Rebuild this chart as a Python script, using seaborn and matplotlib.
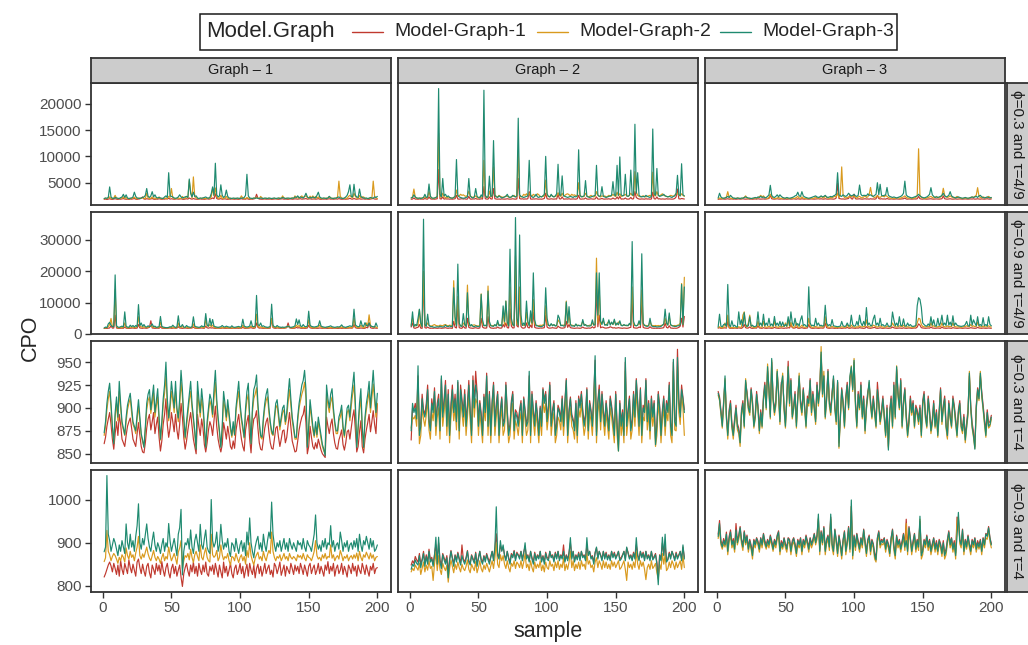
import numpy as np
import pandas as pd
import matplotlib
matplotlib.use("Agg")
import matplotlib.pyplot as plt
from matplotlib.patches import Rectangle
from matplotlib.lines import Line2D
import seaborn as sns

# ---------------------------------------------------------------- labels
settings = ["ϕ=0.3 and τ=4/9", "ϕ=0.9 and τ=4/9", "ϕ=0.3 and τ=4", "ϕ=0.9 and τ=4"]
graphs = ["Graph \u2013 1", "Graph \u2013 2", "Graph \u2013 3"]
models = ["Model-Graph-1", "Model-Graph-2", "Model-Graph-3"]
model_colors = ["#c0392f", "#d99a1e", "#1f8a70"]
legend_title = "Model.Graph"
x_label = "sample"
y_label = "CPO"
x_ticks = [0, 50, 100, 150, 200]
y_ticks = [[5000, 10000, 15000, 20000],
           [0, 10000, 20000, 30000],
           [850, 875, 900, 925, 950],
           [800, 900, 1000]]

# ---------------------------------------------------------------- CPO per sample
# naming: r<setting row>_g<graph>_m<model>

# ϕ=0.3 and τ=4/9
r1_g1_m1 = [1850,1900,1820,1880,1950,1870,1830,1900,1960,1880,1840,1900,1870,1920,1980,1900,1860,1890,1840,1900,
            1880,1930,1990,1870,1850,1900,1940,2050,2300,1900,1870,1960,1900,1880,1920,1990,1880,1850,1900,1870,
            1960,1890,1850,1900,1880,1940,1900,2050,1880,1950,1900,1860,1890,1930,1880,1900,1960,1870,1850,1900,
            1950,1890,2100,1940,1880,1990,1900,1880,1860,1900,1920,1870,1890,1850,1900,1940,1880,1900,1950,2100,
            1950,2900,2000,1880,1900,1980,1870,1900,1940,1880,1850,1900,1870,1920,1890,1860,1900,1880,1850,1900,
            1960,1880,1900,1870,1990,1880,1850,1900,1870,1920,2000,2800,2050,1900,1880,1860,1900,1920,1870,1890,
            1880,1900,1850,1870,1900,1930,1880,1860,1890,1900,1950,1870,1900,1880,1850,1900,1920,1870,1890,1940,
            1900,1880,1920,1960,1880,1900,1930,1990,1870,1900,1950,1880,1900,1920,1880,1900,1970,1880,1850,1900,
            1880,1900,1860,1900,1950,1880,1900,1870,1900,1920,1880,1980,1900,1860,1890,1900,1870,1900,1920,2050,
            1900,1880,2000,1900,1870,1900,1950,1880,1900,1930,1870,1900,1880,1850,1900,1940,2000,1900,1880,1900]
r1_g1_m2 = [1950,2050,1980,2100,2300,2000,1950,2100,2600,2050,1980,2000,2100,2050,2300,2000,2200,1980,1950,2050,
            2000,2100,2250,2000,1980,2050,2100,2000,2150,2050,2000,3000,2100,1980,2050,2300,2000,2100,1980,2000,
            2300,2000,1950,2050,2000,2100,1980,2400,2200,3900,2100,2000,1950,2050,2100,2000,1980,2400,2000,2050,
            2400,2100,5400,3200,2100,6100,2300,2150,2000,1950,2050,2000,2100,1980,2000,2050,2100,2000,2300,3900,
            2500,4000,2300,2100,2000,2600,2050,2000,2100,2400,2000,1980,2050,2000,1950,2000,2050,2000,1980,2050,
            2500,2050,2000,1980,2200,2050,2000,1950,2000,2050,2100,2200,2050,2000,2400,2100,2000,1980,2050,2000,
            2050,2000,1980,2000,2050,2000,1950,2050,2100,2000,2500,2100,2000,2050,1980,2000,2050,2100,2000,2500,
            2100,2400,2000,2300,2500,2100,2400,2500,2200,2000,2450,2100,2500,2000,2400,2100,2300,2050,2000,1980,
            2050,2000,2100,2050,2400,2100,2000,2050,1980,2100,2300,5300,2400,2100,2000,2050,2100,2000,2400,2600,
            2300,2100,3000,2400,2100,2000,2600,2100,2300,2300,2050,2000,1980,2050,2100,2000,5300,2400,2100,2000]
r1_g1_m3 = [2000,2100,2050,2200,4200,2300,2050,2000,2200,2100,2050,2000,2150,2300,2800,2200,2700,2100,2000,2050,
            2100,2300,3200,2400,2100,2050,2000,2100,2200,2300,2600,3900,2400,2200,2500,3300,2300,2700,2200,2100,
            2200,2100,2050,2000,2300,2500,2200,6900,2500,2400,2300,2100,2050,2100,2300,2700,2300,2100,2200,2300,
            2400,2200,5700,3000,2300,3200,2400,2500,2100,2000,2100,2050,2100,2200,2300,2100,2050,2200,2900,4200,
            2600,8700,2700,2300,2500,4600,2600,2200,2400,3600,2400,2100,2050,2000,2100,2050,2000,2100,2050,2000,
            2100,2050,2200,2600,6600,2500,2100,2050,2000,2100,2050,2100,2050,2000,2100,2050,2000,2100,2050,2000,
            2100,2050,2000,2050,2100,2000,2050,2100,2000,2050,2200,2100,2000,2050,2100,2050,2000,2100,2050,2300,
            2200,2500,2100,2300,2200,2100,2400,3000,2300,2100,2200,2100,2300,2200,2100,2600,3200,2300,2100,2050,
            2100,2050,2000,2100,2400,2100,2050,2000,2100,2050,2200,2300,2100,2050,2000,2100,2300,2600,3300,4600,
            2400,2300,4700,2600,2300,2200,3800,2400,2200,2100,2050,2100,2000,2050,2200,2100,2050,2300,2200,2400]

r1_g2_m1 = [1850,1900,2100,1880,1900,1860,1920,1880,1900,1870,2000,1900,1880,2300,1950,1880,1900,1870,1920,1950,
            7500,1950,1900,2300,1880,1950,1900,1920,1880,1900,1870,1900,1950,2600,1900,1880,1920,1960,1900,1950,
            1880,1900,2400,1900,1880,1920,1900,2000,1880,1900,1870,1950,1900,4250,1950,1900,1880,2300,1920,1900,
            3900,1950,1900,1880,1900,1870,1920,1900,1880,1900,1950,1900,1880,1900,1950,1900,1880,1920,5800,2000,
            1900,1950,1880,1920,1900,1950,3300,1900,1880,1920,1900,1950,1900,1880,1900,1870,1920,2000,3000,1950,
            1900,1880,1950,1900,1880,1920,1900,2800,1950,1900,2300,1880,1900,1920,1900,1950,1880,1900,1920,1900,
            1880,1950,2600,1900,1880,1920,1900,2100,1900,1880,1900,1950,1900,1880,1920,2300,1900,1880,1920,2000,
            1900,1880,1920,1900,1950,1880,1900,2100,1920,1900,2300,1900,2400,1880,1920,1900,2100,1900,1880,1920,
            2200,1900,1950,3300,2200,2000,1900,1880,1920,1900,1880,1950,1900,1920,1880,1900,3200,1950,1900,2300,
            1900,1950,1880,1920,1900,1880,1950,1900,1920,1900,1880,1900,2000,2300,3800,1950,1900,2000,1950,1900]
r1_g2_m2 = [2100,2300,3800,2200,2100,2000,2050,2100,2000,2150,2300,2100,2200,3300,2400,2100,2000,2050,2200,2300,
            14400,2500,2200,3000,2300,2200,2100,2300,2200,2100,2050,2200,2300,3600,2400,2500,2800,2600,2700,2500,
            2400,2600,3400,2500,2300,2200,2300,2500,2200,2100,2300,2200,2400,9250,2500,2300,2200,3400,2300,2500,
            8000,2700,2400,2300,2600,2400,2300,2200,2300,2500,2400,2300,2200,2300,2400,2600,2300,2400,11100,2500,
            2300,2400,2800,2600,2900,2500,3000,2700,2400,2800,2600,2500,2900,2700,2400,2300,2500,2400,5500,2600,
            2400,2300,2600,2500,2300,2400,2500,3100,2600,2400,3000,2500,2600,2800,2900,2700,2500,2800,2600,2700,
            2500,2400,5000,2600,2400,2300,2400,3000,2500,2300,2400,2600,2400,2300,2400,3300,2600,2400,2300,2500,
            2400,2500,2300,2400,2600,2400,2500,2800,2500,2400,3200,2500,2900,2400,2500,2600,2800,2500,2400,2600,
            3000,2600,2500,7100,3200,2600,2400,2300,2400,2500,2400,2300,2400,2500,2600,2400,7000,2600,2500,3300,
            2600,2500,2700,2900,2600,2500,2400,2300,2400,2600,2500,2400,2600,2900,3000,2600,2500,2900,2600,2400]
r1_g2_m3 = [2100,2200,2700,2300,2100,2050,2100,2000,2100,2200,2800,2200,2300,4750,2400,2100,2050,2100,2200,2400,
            22880,2800,2300,5800,2500,2800,2300,2500,2200,2100,2050,2200,2400,9400,2600,2300,2200,2100,2050,2100,
            2200,2300,5800,2500,2200,2100,2300,3900,2400,2200,2100,2700,2300,22560,2600,2200,2300,6250,2400,2500,
            13000,2600,2300,2200,2500,2300,2100,2200,2300,2400,2800,2300,2200,2300,2600,2400,2300,2500,17250,2700,
            2400,2300,2200,2300,2400,2500,9250,2600,2300,2200,2400,2800,2300,2200,2400,2300,2500,2800,10000,2900,
            2400,2300,2800,2400,2300,2500,2900,8500,2700,2600,6300,2500,2400,2300,2200,2300,2400,2300,2200,2400,
            2300,2500,11250,2600,2300,2400,2500,5400,2400,2300,2200,2300,2400,2500,2600,8300,2700,2400,2500,4250,
            2400,2300,2200,2300,2400,2500,2600,5200,2700,2500,8300,2600,9900,2700,2500,2600,6600,2500,2400,2600,
            7400,2700,2600,16100,3000,6900,2600,2400,2300,2400,2300,2600,2400,2300,2200,2400,15200,2900,2600,7700,
            2600,2400,2500,2600,2800,2500,2400,2300,2400,2300,2200,2400,2500,3000,6400,2700,2500,8600,2700,2500]

r1_g3_m1 = [1850,1900,1880,1920,1900,1870,1900,1950,1880,1900,1920,1880,1900,1870,1900,1920,1880,1900,1950,1900,
            1880,1900,1920,1880,1900,1870,1900,1920,1880,1950,1900,1880,1900,1920,1880,1900,1950,2000,2600,1950,
            1900,1880,1920,1950,1900,1880,1920,1900,1880,1900,1870,1900,1920,1880,1900,1950,1900,1880,1950,1900,
            1880,1950,1900,1880,1920,1900,1880,1900,1920,1900,1880,1900,1920,1950,1900,1950,1900,1880,1950,1900,
            1880,1900,1920,1900,1880,1920,2100,4900,2000,1950,1900,1920,1880,1900,1950,2000,2600,1950,1900,2800,
            1950,1900,1920,1950,1900,1880,1920,1950,1900,1920,1880,1950,1900,1920,1880,1950,2600,2000,1900,1950,
            1900,1920,1880,2000,1900,1880,1920,1900,1880,1900,1920,1900,1880,1900,1920,1950,2100,1900,1880,1920,
            1900,1880,1900,1920,1900,1950,2400,1950,1900,1880,1920,1900,1880,1900,1920,1950,1900,1880,1900,1920,
            1900,1880,1920,1950,2500,1950,1900,1880,1920,1950,1900,1880,1900,1920,1880,1900,1920,1900,1880,1900,
            1920,1900,1880,1900,1920,1900,1950,1880,1900,1950,1900,1880,1920,1900,1880,1920,1950,1900,1880,1920]
r1_g3_m2 = [1950,2100,2000,1980,2050,2100,2300,3300,2200,2050,2000,1980,2050,2000,2100,2050,2000,1980,2100,2200,
            2500,2100,2000,2050,1980,2000,2050,2100,2050,2200,2300,2600,2300,2500,2200,2100,2000,2200,2800,2300,
            2100,2050,2000,2100,2200,2050,2000,2100,2000,2050,2100,2000,1980,2050,2100,2000,2050,2200,2400,2100,
            2050,2300,2100,2000,2050,2000,1980,2050,2100,2000,2050,2300,2100,2050,2200,2400,2200,2100,2500,2200,
            2100,2050,2200,2100,2300,2400,2300,3000,2200,2600,8000,2600,2200,2100,2200,2300,2400,2300,2500,2400,
            2200,2100,2300,2400,2200,2100,2300,2500,2200,2300,2800,4100,2600,2300,2200,2300,2500,2300,2200,2400,
            2500,2300,2600,2400,2200,2100,2050,2100,2000,2050,2100,2200,2050,2100,2200,2300,2500,2200,2100,2050,
            2100,2050,2000,2100,2200,2600,11440,2600,2200,2100,2050,2000,2100,2200,2300,2400,2200,2100,2200,2400,
            2200,2100,2300,2500,3940,2600,2300,2200,2300,2500,2300,2200,2100,2200,2400,2200,2100,2050,2000,2050,
            2100,2050,2000,2100,2200,2300,2200,2400,2600,4060,2400,2200,2100,2300,2200,2100,2200,2400,2200,2100]
r1_g3_m3 = [2100,3000,2300,2100,2050,2100,2200,2400,2200,2600,2300,2100,2050,2000,2100,2050,2000,2100,2050,2200,
            2300,2200,2100,2050,2000,2050,2100,2200,2100,2300,2200,2400,2200,2300,2100,2200,2400,2700,4500,2600,
            2300,2200,2400,2700,2300,2700,2400,2200,2100,2050,2200,2100,2050,2100,2200,2300,2500,2600,3200,2500,
            2400,3300,2500,2300,2200,2100,2050,2100,2200,2300,2400,2500,2300,2200,2300,2500,2300,2400,2600,2300,
            2200,2300,2400,2300,2500,2600,2900,6900,2700,2500,2400,2700,2500,2400,2600,3000,2700,2500,2600,2800,
            2500,2400,2600,4560,2800,2500,2600,2600,2500,2900,2600,2700,2500,2400,2600,2800,5000,2700,4700,2600,
            2500,2600,2700,4100,2600,2400,2300,2200,2300,2200,2100,2200,2300,2400,2600,3000,5300,2700,2400,2300,
            2200,2100,2200,2300,2400,2500,2800,2500,2300,2200,2100,2200,2300,2500,2800,4060,2700,2400,2200,2300,
            2200,2300,2400,2600,3000,2500,2300,2400,2600,3300,2500,2300,2200,2100,2200,2300,2200,2100,2050,2100,
            2200,2100,2050,2100,2200,2300,2200,2300,2400,2200,2500,2600,2300,2200,2100,2200,2300,2200,2100,2200]

# ϕ=0.9 and τ=4/9
r2_g1_m1 = [1750,1800,1780,1850,1900,2600,1850,1900,6000,1900,1800,1780,1820,1850,1800,2200,1850,1800,1780,1820,
            1850,1900,1800,1820,1850,3000,1900,1850,1800,1900,1850,1800,1950,2100,4200,1900,1850,1800,1820,1850,
            1800,2300,1850,1800,1780,1820,1800,1850,1900,1800,1850,1900,1800,1850,2300,1900,1850,1800,1850,1900,
            1850,1800,1820,1850,1900,2200,1850,1800,1780,1820,1850,1900,1850,1800,2500,1950,1850,2000,1900,1950,
            1850,1800,1820,1850,1800,1780,1900,1850,1800,1820,1850,1800,1780,1800,1850,1800,1820,1850,1800,1850,
            1820,2100,1850,1800,1820,1850,1900,2000,1850,1800,1900,3500,2100,1850,1900,1850,1800,1820,1850,1800,
            1820,1850,4800,2000,1850,1800,1900,1850,1800,1820,1850,1800,1900,2000,3500,1950,1850,1800,1820,1850,
            2100,1900,2000,1850,1800,1850,1800,1820,1900,2800,1950,1850,1800,1820,1850,1800,1820,1900,1850,1800,
            1820,1850,1800,1780,1820,1850,1800,1820,1850,1800,1780,1820,1850,1800,1820,1850,1800,1820,1850,1900,
            1850,1900,3000,2000,1850,1800,1820,1900,1850,1800,1820,2100,1950,3600,2000,1850,1800,1900,1850,1800]
r2_g1_m2 = [1850,1950,2000,2300,3000,4950,2300,2500,14200,2300,2000,1950,2000,2100,2000,3500,2100,2000,1950,2200,
            2100,2200,2000,2100,2300,5500,2400,2300,2100,2300,2100,2000,2200,2300,2600,2300,2100,2200,2000,2100,
            2000,3700,2200,2000,1950,2000,1900,2000,2100,2000,2200,2000,1950,2000,3500,2200,2100,2300,2100,2000,
            2200,2000,1950,2000,2100,3200,2100,2000,1950,2000,2100,2200,2100,2000,4500,2600,2400,3000,2300,2800,
            2100,2000,1950,2000,1950,1900,2100,2000,1950,2100,2000,1950,1900,2000,1950,1900,2000,2100,2000,1950,
            2000,2800,2100,2000,1950,2000,2100,2500,2200,2000,2300,6300,2500,2100,2300,2100,2000,1950,2000,1950,
            2000,2100,5000,2300,2100,2000,2200,2000,1950,2000,1950,1900,2000,2100,2600,2100,2000,1950,2000,2100,
            2800,2300,2700,2100,2000,2100,2000,2100,2300,4500,2300,2100,2000,1950,2000,2100,2200,2800,2200,2000,
            1950,2000,2100,2000,1950,2100,2000,1950,2000,1950,2000,2100,2000,2200,2000,1950,2000,1950,2000,2100,
            2000,2200,5000,2400,2100,2000,2100,2800,2200,2000,2200,3500,2500,6100,2700,2300,2100,2400,2200,2000]
r2_g1_m3 = [1900,2200,2000,3200,3700,2800,2300,2400,18850,2600,2200,2100,2300,2500,2200,7050,2400,2200,2100,2800,
            2300,2700,2200,2700,2300,9370,2600,3500,2400,3000,2300,2200,2600,2300,2500,3200,2300,2500,2100,2200,
            2300,5580,2400,2200,2100,2000,2000,2100,2300,2200,2800,2300,2100,2200,5800,2500,2300,3000,2200,2100,
            2700,2300,2200,2100,2300,5470,2500,2300,2200,2100,2200,2600,2300,2400,6500,2800,2500,4950,2700,4600,
            2500,2300,2200,2100,2200,2300,2700,2300,2200,2500,2300,2200,2100,2600,2200,2100,2200,2300,2400,2200,
            2300,4700,2500,2300,2200,2300,2500,4200,2400,2300,2500,12300,3000,2600,3500,2400,2600,2300,2200,2100,
            2200,2400,9500,2700,2300,2200,2700,2300,2200,2100,2200,2100,2200,2300,2500,2200,2100,2200,2300,2600,
            4800,3000,4500,2600,2300,3000,2400,2300,2500,7260,2800,2400,2300,2200,2300,2400,2600,4200,2500,2300,
            2200,2100,2200,2300,2400,2600,2300,2200,2100,2200,2300,2200,2400,2900,2300,2200,2100,2300,2400,2600,
            2400,2600,7900,2900,2500,2300,2400,4200,2600,2400,3600,2700,2500,3500,2600,2400,2300,2200,3500,2400]

r2_g2_m1 = [2200,3500,1900,1800,2000,2100,3000,1850,1800,16800,2000,1850,2200,1900,1800,1850,1800,1900,1850,1800,
            1850,1900,1800,1850,1900,2000,1850,1800,1900,1850,1800,4000,2100,1900,9160,2000,1850,1800,2500,1900,
            1850,5000,2100,1900,1850,1800,1900,2000,1850,1800,1900,5000,2200,1900,1850,1900,5500,2300,1900,1850,
            1800,1900,1850,2200,1900,1850,1900,3000,2200,3500,2000,1900,8000,2500,1900,1950,18630,2600,2200,12630,
            2400,1900,1850,2000,3500,2100,1900,2800,2000,7000,2100,1900,1850,1800,1900,1850,1900,2000,6000,2200,
            1900,1850,1900,2000,1900,1850,1800,2500,2100,1900,1850,1900,2000,4000,2100,3000,2000,1900,1850,1800,
            1850,1900,1850,1800,1900,2200,1900,1850,1800,1900,1850,1900,2300,1900,2100,14400,2300,6000,1950,2200,
            2100,1900,1850,1950,2000,2300,2100,1900,2000,1850,1900,2000,1900,1850,1800,1900,1850,1800,1850,2000,
            2100,11260,2000,1900,1850,1900,2200,2000,10840,2100,1900,1850,1800,1850,2300,1900,1850,1800,1850,1800,
            1850,1800,1850,1900,2000,3500,2100,1900,2600,1900,1850,1800,1850,1800,1900,2100,2500,5000,2200,5580]
r2_g2_m2 = [2800,5000,2600,2500,3000,2800,7800,2600,2500,20000,2800,2600,3500,2700,2600,2500,2800,3000,2700,2600,
            2500,2800,2700,2600,2900,3000,2700,2600,2800,2700,2600,17000,3500,2800,12000,3000,2700,2600,3500,2800,
            2600,15600,3000,2700,2600,2800,2900,2700,2600,2500,2800,12800,3200,2700,2600,2800,15300,3200,2800,2600,
            2700,2800,2600,3500,2900,2700,2800,7000,3000,10500,2900,2700,15000,3500,2800,2700,25000,3200,2900,15000,
            3500,2800,2700,2900,7000,3200,2800,5500,3000,11000,3200,2800,2700,2600,2800,2700,2900,3000,9000,3200,
            2800,2700,3000,2800,2900,2700,2600,4500,3800,2800,2700,2800,3000,10500,3200,6000,3000,2800,2700,2600,
            3000,2800,2700,2600,2900,4000,3000,2800,2700,2600,2800,2700,3500,2900,3000,24200,3500,14000,3000,3800,
            4000,3000,2800,3500,4000,3200,3500,3000,4200,2900,3000,3800,3500,2800,2700,2800,2700,2600,2800,3000,
            3200,15000,3000,2800,2600,2800,3500,2900,14000,3000,2800,2700,2600,2700,4000,2800,2700,2600,2700,2600,
            2700,2600,2700,2800,3000,5000,3200,2900,5500,2800,2700,2600,2700,2600,2800,2900,3500,16100,3000,18100]
r2_g2_m3 = [2500,7050,2400,3000,2600,5000,7900,3500,2300,36640,3000,2400,6300,2800,2300,2400,2200,2100,2200,2300,
            2200,2500,2300,2200,2300,2800,2400,2300,2600,2300,2400,14740,5500,2600,22300,3500,2500,2400,6500,3000,
            2400,13160,4000,2500,3000,2400,2300,2600,2400,2300,2500,12630,4500,2600,2800,2500,13700,4000,2600,2500,
            2400,3000,2500,4300,2600,2900,2500,8950,4000,10500,3800,2600,27060,5000,3000,2600,37170,5000,2800,31600,
            6000,2700,3500,2600,10500,4000,2600,7400,3500,19500,4500,2600,2600,2400,2400,2300,2600,2800,14740,5000,
            2800,2500,3300,2600,3000,2500,2700,6000,5000,2600,2800,2500,2600,10200,3500,8700,3000,2500,2600,2400,
            3200,2500,2800,2600,2500,4600,2700,3000,2500,2600,2500,2700,4500,2800,3000,19500,6000,19500,4000,3000,
            5000,2800,3000,2700,4500,2800,3800,3000,4700,2800,3500,2900,4200,2700,2600,3000,2700,2800,2600,3400,
            2800,29500,4000,2700,2600,2800,4200,2900,25600,3500,2700,2500,2400,2600,5000,2600,2400,2300,2400,2200,
            2300,2300,2400,2800,3200,7900,3500,2800,6700,3000,2600,2500,2400,2400,2600,2600,3000,15800,3000,15000]

r2_g3_m1 = [1850,2000,1800,1850,1900,1950,1850,4000,1900,1800,1850,1800,1900,1850,1800,1950,1850,1800,2100,3000,
            2000,1850,1900,2200,1850,1800,1850,1900,1850,2600,1900,1850,1800,2000,1850,1800,1850,1900,1850,1800,
            1850,2100,1900,1850,1800,1850,1900,1850,1800,1900,1850,2000,1900,3000,2000,1850,1900,2200,1850,1800,
            1900,2000,1850,1800,1850,1900,3000,2000,1850,1800,1850,1900,1850,1800,1850,1900,1850,1900,3500,2000,
            1850,1800,1850,1900,1850,1800,1850,1800,1900,1850,1800,1850,1900,1850,2100,1850,1800,1950,1900,1850,
            1800,1900,1850,2000,1900,1850,1800,1850,2300,1900,1850,1800,1900,2000,2100,1850,1800,1850,1950,1850,
            1800,1850,1900,1850,1800,1850,1900,2200,1950,1850,1800,1850,1900,1850,1800,1950,1850,1800,1850,1900,
            1850,1800,1850,1900,1850,2200,3200,2800,2000,1900,1850,1800,1850,1900,1850,2200,1900,1850,1800,1850,
            1900,1850,1800,2200,1900,1850,1800,1850,1900,1850,1800,2000,1900,1850,1800,1850,1900,1850,1800,1850,
            1900,1850,1800,1850,2000,1900,1850,1800,1850,2100,1900,1850,1800,1900,1850,1800,1850,1900,1850,1800]
r2_g3_m2 = [2000,2300,2000,1950,2100,3500,2100,6000,2200,2000,2100,2000,1950,2000,2100,2300,2100,2200,6000,7050,
            2500,2200,3500,6000,2400,2200,2100,2000,2200,4000,2300,2100,2200,4000,2300,2100,2200,2500,2200,2100,
            2200,4000,2300,2200,2100,2500,2200,2400,2300,3500,2200,4500,2300,3700,2200,2100,2300,3500,2200,2100,
            2300,2800,2200,2100,2200,2300,5000,2500,2200,2100,2200,2400,2200,2100,2200,2300,2200,2300,5500,2600,
            2200,2100,2200,2400,2200,2100,2000,2100,2200,2100,2300,2200,2100,2200,3000,2200,2100,2800,2300,2200,
            2100,2300,2200,2600,2300,2200,2400,2300,4500,2400,2300,2200,2300,2800,2600,2300,2200,2400,2600,2300,
            2200,2100,2200,2500,2300,2200,2400,3500,2600,2300,2200,2300,2600,2400,2300,2800,2300,2200,2300,2200,
            2100,2200,2100,2200,2400,3500,5000,4800,3000,2400,2300,2200,2300,2400,2300,3500,2400,2600,2300,2200,
            2300,2400,2300,3500,2400,2300,2200,2600,2300,2400,2300,3500,2400,2300,2200,2300,2200,2100,2200,2300,
            2400,2600,2300,2400,3000,2400,2600,2300,2400,3800,2400,2300,2200,2500,2300,2200,2300,2600,2300,2200]
r2_g3_m3 = [2200,6300,2500,2300,3000,3200,2400,15800,3000,2300,4200,2400,2800,2300,2200,7050,3000,4500,2500,6800,
            3000,2400,2600,5500,2500,2800,2300,2400,2600,7050,2700,3500,2500,6300,2600,3500,2700,5000,2600,3200,
            2500,5580,2700,3500,2600,4000,2500,3800,2400,3000,2500,5500,2700,7050,3500,2600,5000,2800,3300,2500,
            4500,5800,2700,3000,2500,2400,15050,3500,2600,2800,2500,5000,2700,3500,2600,2800,2500,2700,9160,3500,
            2600,3000,2500,4600,2600,2500,2400,2300,2400,2500,4000,2600,2400,2500,3500,2600,2500,6000,3000,2500,
            2600,4000,2700,6000,3500,2600,4000,2700,8420,2800,3500,2600,2700,4800,6000,2800,3500,2600,5000,2700,
            3000,2500,2600,3500,2500,2400,2600,7000,4500,2600,3500,2500,5500,2700,2600,4800,2600,2500,3500,2600,
            3000,2500,2400,2500,2700,9000,11580,11000,8500,3500,3000,2600,2500,3200,2600,5500,2800,4500,2600,2500,
            5000,2700,3500,6000,2800,3500,2700,6000,2800,3800,2600,5800,2700,3500,2800,2600,2500,2400,2500,2600,
            3000,4000,2600,2500,6000,2800,4500,3500,2600,5500,2700,3000,2500,5200,2600,3000,2500,5500,3000,2600]

# ϕ=0.3 and τ=4
r3_g1_m1 = [861,868,880,888,895,882,866,855,872,885,870,893,882,866,862,858,870,880,885,889,
            878,866,862,858,872,884,870,858,852,851,862,878,888,893,876,885,895,872,882,890,
            868,853,864,882,893,910,882,868,878,895,885,874,893,876,866,882,905,890,868,855,
            864,876,886,895,880,866,858,850,893,880,870,888,878,860,852,862,876,885,880,870,
            886,902,880,866,858,852,860,884,876,866,880,870,858,855,864,856,875,885,893,878,
            866,858,853,876,885,892,866,851,876,888,890,897,878,862,855,854,866,878,885,889,
            874,862,856,855,866,878,880,868,858,866,875,876,862,868,882,895,880,864,858,852,
            853,864,876,884,890,893,902,884,850,858,880,868,858,855,862,856,866,860,854,850,
            848,846,890,880,872,882,888,872,862,856,855,865,870,876,860,854,862,874,876,866,
            878,890,898,876,852,858,874,886,858,851,866,876,884,893,874,885,897,882,872,904]
r3_g1_m2 = [870,880,898,910,918,900,878,862,890,905,886,918,900,882,876,870,885,898,905,910,
            895,882,878,872,888,902,886,870,863,858,876,898,908,912,894,905,916,890,902,912,
            886,865,880,903,916,935,903,886,898,918,908,895,918,896,885,903,928,912,886,866,
            880,895,908,918,900,886,872,856,918,903,890,910,898,876,858,880,895,908,902,890,
            910,928,903,886,872,858,876,908,900,886,902,890,876,868,880,870,895,908,918,900,
            886,876,867,895,908,915,886,862,895,910,915,922,900,882,868,866,886,900,908,912,
            895,882,872,870,886,900,903,890,876,886,895,898,882,890,906,920,903,886,876,866,
            866,886,900,908,915,920,928,910,858,876,902,890,876,868,880,868,885,876,866,858,
            853,850,915,903,895,906,912,895,882,872,872,886,890,898,876,868,880,895,898,886,
            902,915,925,898,858,876,898,910,876,856,886,898,908,918,895,910,926,908,890,905]
r3_g1_m3 = [873,885,905,918,927,905,880,861,895,912,890,929,905,885,878,871,890,903,910,916,
            900,885,880,875,893,909,890,872,865,857,880,905,915,920,898,912,925,895,908,921,
            890,866,885,910,925,950,910,889,905,929,915,900,929,900,889,910,941,920,890,868,
            885,900,915,929,905,890,875,855,929,910,895,921,905,880,857,885,900,915,909,893,
            920,941,910,890,875,857,880,918,905,890,909,895,880,870,885,871,900,915,929,905,
            890,880,868,900,918,927,890,861,900,920,925,936,905,885,870,868,890,905,915,921,
            900,885,875,871,890,905,909,895,880,890,900,903,885,895,915,932,910,890,880,868,
            868,890,905,915,925,930,941,920,857,880,909,895,880,870,885,871,890,880,870,860,
            855,848,925,910,900,915,921,900,885,875,875,890,895,903,880,870,885,900,903,890,
            910,925,939,905,857,880,905,921,880,857,890,905,915,929,900,920,941,915,895,916]

r3_g2_m1 = [865,900,898,905,892,935,875,885,915,898,893,905,925,888,878,910,898,922,885,905,
            915,878,932,895,910,930,885,920,875,905,925,898,915,888,928,878,925,910,895,920,
            885,905,930,898,875,935,905,940,918,885,908,895,875,915,898,938,885,918,875,908,
            928,885,905,918,875,898,912,885,888,928,898,875,882,908,918,880,898,895,885,898,
            908,873,912,898,884,888,935,874,918,898,884,908,893,873,902,884,922,908,918,888,
            903,928,883,898,908,874,884,903,898,888,913,884,908,932,874,898,912,893,888,878,
            908,874,913,903,918,898,884,893,922,878,908,898,884,913,952,874,908,925,888,918,
            898,884,908,893,878,913,903,888,874,918,884,860,908,884,898,874,950,884,898,913,
            878,888,918,893,932,908,884,922,874,903,898,932,888,908,878,913,893,908,866,884,
            918,903,874,898,913,884,908,898,928,884,874,950,890,885,964,910,895,925,912,898]
r3_g2_m2 = [878,890,888,892,880,925,861,870,900,888,880,892,910,876,866,896,886,908,870,890,
            900,866,920,880,895,915,870,905,862,890,910,886,900,876,918,866,910,895,880,905,
            870,890,915,886,862,918,890,910,905,870,895,880,862,900,886,922,870,905,862,895,
            915,870,890,905,862,886,900,870,876,915,886,862,870,895,905,866,886,880,870,886,
            895,862,900,886,870,876,925,862,905,886,870,895,880,862,890,870,910,895,905,876,
            890,915,870,886,895,862,870,890,886,876,900,870,895,918,862,886,900,880,876,866,
            895,862,900,890,905,886,870,880,910,866,895,886,870,900,940,862,895,908,876,905,
            886,870,895,880,866,900,890,876,862,905,870,853,895,870,886,862,940,870,886,900,
            866,876,905,880,918,895,870,908,862,890,886,918,876,895,866,900,880,895,858,870,
            905,890,862,886,900,870,895,886,915,870,862,940,876,875,945,895,882,915,900,870]
r3_g2_m3 = [875,905,895,900,888,946,870,880,910,895,890,900,920,885,875,905,895,918,880,900,
            910,875,935,890,905,925,880,915,870,900,920,895,910,885,930,875,920,905,890,915,
            880,900,925,895,870,930,900,925,915,880,905,890,870,912,895,935,880,915,870,905,
            925,880,900,915,870,895,910,880,885,925,895,870,880,905,915,875,895,890,880,895,
            905,870,910,895,880,885,940,870,915,895,880,905,890,870,900,880,920,905,915,885,
            900,925,880,895,905,870,880,900,895,885,910,880,905,930,870,895,910,890,885,875,
            905,870,910,900,915,895,880,890,920,875,905,895,880,910,957,870,905,920,885,915,
            895,880,905,890,875,910,900,885,870,915,880,853,905,880,895,870,955,880,895,910,
            875,885,915,890,930,905,880,920,870,900,895,930,885,905,875,910,890,905,860,880,
            915,900,870,895,910,880,905,895,925,880,870,953,885,880,955,905,890,920,910,895]

r3_g3_m1 = [918,912,898,884,908,930,893,873,898,908,884,874,888,903,883,878,866,898,908,884,
            928,918,903,898,922,908,884,893,918,903,878,898,884,913,928,903,940,922,893,950,
            912,898,908,938,918,888,928,930,903,884,913,951,908,932,893,903,918,884,913,932,
            908,898,922,903,884,913,908,932,898,918,903,888,928,908,922,958,918,935,893,913,
            942,908,898,918,932,903,888,928,862,893,922,908,884,913,928,903,932,940,922,950,
            908,884,918,903,928,893,913,878,903,918,925,908,893,913,898,884,928,908,888,898,
            913,893,873,903,858,898,913,884,928,893,942,918,903,932,884,908,922,893,874,888,
            913,898,908,884,903,898,888,903,874,908,918,893,884,913,898,878,888,908,884,898,
            874,898,922,888,903,913,884,868,908,893,884,913,903,888,874,898,908,884,878,893,
            868,884,898,935,903,884,874,858,903,922,913,935,918,903,888,874,898,884,885,892]
r3_g3_m2 = [914,908,893,878,902,932,888,866,892,902,878,866,882,898,876,872,858,892,902,878,
            932,912,898,892,918,902,878,888,912,898,872,892,878,908,922,898,948,918,888,952,
            908,892,902,942,912,882,922,938,898,878,908,945,902,928,888,898,912,878,908,938,
            902,892,918,898,878,908,902,928,892,912,898,882,922,902,918,967,912,940,888,908,
            938,902,892,912,932,898,882,928,856,888,918,902,878,908,922,898,932,946,918,954,
            902,878,912,898,922,888,908,872,898,912,928,902,888,908,892,878,918,902,882,892,
            908,888,868,898,856,892,908,878,922,888,946,912,898,928,878,902,918,888,868,882,
            908,892,902,878,898,892,882,898,868,902,912,888,878,908,892,872,882,902,878,892,
            868,892,918,882,898,908,878,866,902,888,878,908,898,882,868,892,902,878,872,888,
            862,878,892,940,898,878,868,856,898,918,908,940,912,898,882,868,892,878,880,888]
r3_g3_m3 = [916,910,895,880,905,935,890,870,895,905,880,870,885,900,880,875,862,895,905,880,
            930,915,900,895,920,905,880,890,915,900,875,895,880,910,925,900,945,920,890,954,
            910,895,905,940,915,885,925,935,900,880,910,945,905,930,890,900,915,880,910,935,
            905,895,920,900,880,910,905,930,895,915,900,885,925,905,920,961,915,935,890,910,
            940,905,895,915,935,900,885,930,858,890,920,905,880,910,925,900,935,945,920,952,
            905,880,915,900,925,890,910,875,900,915,930,905,890,910,895,880,920,905,885,895,
            910,890,870,900,854,895,910,880,925,890,945,915,900,930,880,905,920,890,870,885,
            910,895,905,880,900,895,885,900,870,905,915,890,880,910,895,875,885,905,880,895,
            870,895,920,885,900,910,880,870,905,890,880,910,900,885,870,895,905,880,875,890,
            865,880,895,938,900,880,870,855,900,920,910,938,915,900,885,870,895,880,882,890]

# ϕ=0.9 and τ=4
r4_g1_m1 = [820,828,838,848,855,846,832,852,840,826,848,822,858,838,826,852,840,828,860,842,
            830,850,836,822,855,862,842,828,850,834,822,845,852,830,818,848,838,826,852,834,
            848,826,856,836,822,842,852,830,818,840,850,828,845,822,836,848,820,798,828,842,
            852,834,822,848,832,855,828,845,822,852,836,826,848,832,855,828,822,845,834,848,
            826,852,836,820,848,832,818,855,830,845,822,836,852,828,818,840,848,826,836,852,
            828,845,818,836,850,822,852,836,826,848,818,840,850,828,845,822,836,852,828,840,
            848,826,836,820,852,845,828,840,855,824,836,848,822,845,836,828,852,840,826,848,
            834,845,828,852,840,826,848,836,822,845,852,828,840,848,826,836,852,828,845,834,
            822,848,836,856,828,845,834,852,822,840,848,828,836,852,826,845,834,820,848,840,
            828,852,834,845,822,848,836,828,852,840,826,848,834,822,845,836,852,828,840,842]
r4_g1_m2 = [856,865,929,880,872,858,868,875,870,862,852,866,858,872,866,855,888,870,862,880,
            866,872,858,876,890,915,870,862,874,866,878,890,874,864,858,870,882,866,858,868,
            862,852,866,875,858,868,862,890,872,858,866,875,864,850,878,888,905,840,858,870,
            866,875,860,885,866,854,872,880,868,858,895,866,860,876,888,866,858,855,920,872,
            866,870,882,858,866,895,872,860,868,864,875,858,848,868,866,858,875,864,854,866,
            872,858,868,850,882,866,900,870,858,848,864,872,878,862,868,858,880,866,858,872,
            882,875,925,880,866,858,868,864,872,858,866,875,862,868,858,875,866,862,868,864,
            858,872,866,870,862,875,864,858,872,866,864,858,868,880,905,870,862,866,858,872,
            864,875,862,868,866,895,864,872,858,866,870,862,882,872,858,868,864,872,858,866,
            870,862,872,864,876,858,880,866,858,872,866,878,870,862,876,864,872,858,866,868]
r4_g1_m3 = [879,890,1057,920,905,880,895,910,900,885,870,895,880,905,890,875,944,900,885,920,
            890,905,880,915,940,991,900,885,910,895,920,944,910,890,880,905,925,895,880,900,
            890,875,895,910,880,900,890,945,905,880,895,910,890,870,920,935,978,825,880,900,
            895,910,885,930,890,875,905,920,900,880,943,895,885,910,930,890,880,875,1001,905,
            890,900,925,880,895,943,905,885,900,890,910,880,868,900,895,880,910,890,875,895,
            905,880,900,870,925,895,958,900,880,865,890,905,915,885,900,880,920,895,880,905,
            925,910,995,920,895,880,900,890,905,880,895,910,885,900,880,910,895,885,900,890,
            880,905,895,900,885,910,890,880,905,895,890,880,900,920,965,900,885,895,880,905,
            890,910,885,900,895,940,890,905,880,895,900,885,925,905,880,900,890,905,880,895,
            900,885,905,890,910,880,920,895,880,905,895,915,900,885,910,890,905,880,885,895]

r4_g2_m1 = [848,858,852,868,860,855,875,850,862,880,852,872,855,885,860,866,850,872,895,855,
            900,860,848,875,865,856,870,832,862,882,866,852,872,860,878,865,852,895,862,856,
            866,882,858,852,872,864,856,878,850,866,880,862,855,870,860,875,864,856,868,880,
            862,888,921,875,866,895,882,890,872,862,880,866,855,875,868,882,862,878,872,866,
            880,862,878,892,866,872,858,880,866,855,878,862,872,866,880,858,870,855,878,866,
            862,880,868,872,858,878,866,880,862,872,866,895,858,872,862,878,900,866,880,858,
            872,864,878,862,880,868,872,862,895,872,880,866,870,855,878,888,866,880,872,862,
            880,866,878,864,872,862,880,868,878,866,872,880,862,866,872,880,862,888,878,866,
            872,862,878,866,895,872,862,880,868,878,862,880,866,872,862,880,864,868,875,855,
            820,872,862,900,872,895,858,862,878,866,880,872,862,878,866,872,880,862,890,866]
r4_g2_m2 = [832,840,835,848,842,836,852,826,840,855,832,848,836,858,840,845,812,850,878,835,
            870,838,826,852,842,835,848,808,840,860,845,830,850,838,855,842,832,850,840,835,
            845,860,838,830,850,842,835,856,830,842,858,840,832,848,838,852,842,832,846,858,
            840,865,900,850,842,872,858,870,850,840,858,842,832,852,845,858,840,855,850,842,
            858,840,855,875,842,850,835,858,842,832,855,840,850,842,858,835,848,832,855,842,
            838,858,845,850,835,855,842,858,838,850,842,865,835,850,838,855,880,842,858,835,
            850,840,855,838,858,845,850,838,875,850,858,842,848,832,855,865,842,858,850,838,
            858,842,855,840,850,838,858,845,855,842,850,858,838,842,850,858,838,812,855,842,
            850,838,855,842,880,850,838,858,845,855,838,814,842,850,838,858,840,845,852,830,
            815,850,838,875,850,872,835,840,855,842,858,850,838,855,842,850,858,838,870,842]
r4_g2_m3 = [838,850,845,860,852,848,870,842,858,875,845,868,850,880,855,862,845,870,913,850,
            913,855,840,872,860,850,865,818,858,880,862,845,870,855,875,860,848,870,858,850,
            862,880,855,848,870,860,852,875,845,862,880,858,850,868,855,872,860,850,865,880,
            858,890,984,870,862,905,880,895,870,858,880,862,850,872,865,880,858,875,870,862,
            880,858,875,900,862,870,855,880,862,850,875,858,870,862,880,855,868,850,875,862,
            858,880,865,870,855,875,862,880,858,870,862,880,855,870,858,875,912,862,880,855,
            870,860,875,858,880,865,870,858,912,870,880,862,868,850,875,890,862,880,870,858,
            880,862,875,860,870,858,880,865,875,862,870,880,858,862,870,880,858,890,875,862,
            870,858,875,862,912,870,858,880,865,875,858,880,862,870,858,880,860,865,872,850,
            802,870,858,913,870,920,855,860,875,862,880,870,858,875,862,870,880,858,895,862]

r4_g3_m1 = [920,952,905,895,910,898,925,885,915,930,898,910,890,945,905,918,938,908,895,928,
            905,918,890,908,895,878,908,898,912,904,890,912,898,922,905,895,908,898,918,905,
            890,908,898,918,928,885,905,895,912,898,890,912,908,885,905,912,898,880,908,898,
            912,885,908,898,918,905,890,912,898,908,922,905,918,955,885,928,905,938,885,908,
            918,895,960,898,885,932,908,880,918,898,876,908,928,885,905,938,890,985,876,918,
            895,922,905,890,912,898,932,905,880,908,918,885,908,898,876,866,912,928,898,908,
            905,912,890,908,898,880,912,932,895,876,918,898,908,890,905,922,895,955,885,938,
            912,885,905,922,890,908,895,950,876,885,908,898,918,895,908,885,898,912,890,905,
            885,908,898,880,905,876,885,908,928,898,912,890,905,876,960,955,908,898,932,885,
            908,895,918,898,885,908,898,912,890,905,895,908,885,912,898,922,918,938,912,898]
r4_g3_m2 = [910,935,895,885,898,890,912,872,902,918,888,898,878,925,895,908,928,898,882,915,
            895,908,878,898,885,862,898,888,905,895,878,902,888,912,895,885,898,888,908,895,
            880,898,888,908,918,872,895,885,902,888,878,902,898,872,895,902,888,868,898,888,
            902,872,898,888,908,895,878,902,888,898,915,895,908,958,872,918,895,928,872,898,
            908,882,955,888,872,925,898,868,908,888,862,898,918,872,895,928,878,985,862,908,
            882,912,895,878,902,888,925,895,868,898,908,872,898,888,862,855,902,918,888,898,
            895,902,878,898,888,868,902,922,882,862,908,888,898,878,895,912,882,945,872,928,
            902,872,895,912,878,898,882,955,862,872,898,888,908,882,898,872,888,902,878,895,
            872,898,888,868,895,862,872,898,918,888,902,878,895,862,950,960,898,888,922,872,
            898,885,908,888,872,898,888,902,878,895,885,898,872,902,888,912,908,930,902,888]
r4_g3_m3 = [915,945,900,890,905,895,920,880,910,925,895,905,885,930,900,915,935,905,890,925,
            900,915,885,905,890,870,905,895,910,900,885,910,895,920,900,890,905,895,915,900,
            885,905,895,915,925,880,900,890,910,895,885,910,905,880,900,910,895,875,905,895,
            910,880,905,895,915,900,885,910,895,905,920,900,915,967,880,925,900,935,880,905,
            915,890,967,895,880,930,905,875,915,895,870,905,925,880,900,935,885,1000,870,915,
            890,920,900,885,910,895,930,900,875,905,915,880,905,895,870,860,910,925,895,905,
            900,910,885,905,895,875,910,930,890,870,915,895,905,885,900,920,890,905,880,935,
            910,880,900,920,885,905,890,962,870,880,905,895,915,890,905,880,895,910,885,900,
            880,905,895,875,900,870,880,905,925,895,910,885,900,870,915,971,905,895,930,880,
            905,890,915,895,880,905,895,910,885,900,890,905,880,910,895,920,915,935,910,895]

# ---------------------------------------------------------------- long table
series = {
    (0, 0, 0): r1_g1_m1, (0, 0, 1): r1_g1_m2, (0, 0, 2): r1_g1_m3,
    (0, 1, 0): r1_g2_m1, (0, 1, 1): r1_g2_m2, (0, 1, 2): r1_g2_m3,
    (0, 2, 0): r1_g3_m1, (0, 2, 1): r1_g3_m2, (0, 2, 2): r1_g3_m3,
    (1, 0, 0): r2_g1_m1, (1, 0, 1): r2_g1_m2, (1, 0, 2): r2_g1_m3,
    (1, 1, 0): r2_g2_m1, (1, 1, 1): r2_g2_m2, (1, 1, 2): r2_g2_m3,
    (1, 2, 0): r2_g3_m1, (1, 2, 1): r2_g3_m2, (1, 2, 2): r2_g3_m3,
    (2, 0, 0): r3_g1_m1, (2, 0, 1): r3_g1_m2, (2, 0, 2): r3_g1_m3,
    (2, 1, 0): r3_g2_m1, (2, 1, 1): r3_g2_m2, (2, 1, 2): r3_g2_m3,
    (2, 2, 0): r3_g3_m1, (2, 2, 1): r3_g3_m2, (2, 2, 2): r3_g3_m3,
    (3, 0, 0): r4_g1_m1, (3, 0, 1): r4_g1_m2, (3, 0, 2): r4_g1_m3,
    (3, 1, 0): r4_g2_m1, (3, 1, 1): r4_g2_m2, (3, 1, 2): r4_g2_m3,
    (3, 2, 0): r4_g3_m1, (3, 2, 1): r4_g3_m2, (3, 2, 2): r4_g3_m3,
}
frames = []
for (si, gi, mi), vals in series.items():
    frames.append(pd.DataFrame({
        "sample": np.arange(1, len(vals) + 1),
        "CPO": np.asarray(vals, dtype=float),
        "setting": settings[si],
        "graph": graphs[gi],
        "model": models[mi],
    }))
df = pd.concat(frames, ignore_index=True)

# ---------------------------------------------------------------- style
sns.set_theme(style="white")
plt.rcParams["font.family"] = ["Liberation Sans", "DejaVu Sans"]
plt.rcParams["axes.unicode_minus"] = False

W, H = 1028, 645
fig = plt.figure(figsize=(W / 100, H / 100), dpi=100)
fig.patch.set_facecolor("white")


def box(x0, y0, x1, y1):
    """pixel box (top-left origin) -> figure-fraction rect"""
    return [x0 / W, 1 - y1 / H, (x1 - x0) / W, (y1 - y0) / H]


col_px = [(90.5, 391.0), (397.5, 698.0), (704.5, 1005.0)]
row_px = [(83.0, 205.0), (212.0, 334.0), (341.0, 463.0), (470.0, 592.0)]
border = "#333333"
tick_txt = "#4d4d4d"
strip_fill = "#cccccc"
palette = dict(zip(models, model_colors))

n_samples = df["sample"].max()
x_pad = 0.05 * (n_samples - 1)

for r, setting in enumerate(settings):
    row_vals = df.loc[df["setting"] == setting, "CPO"]
    lo, hi = row_vals.min(), row_vals.max()
    pad = 0.05 * (hi - lo)
    for c, graph in enumerate(graphs):
        ax = fig.add_axes(box(col_px[c][0], row_px[r][0], col_px[c][1], row_px[r][1]))
        sub = df[(df["setting"] == setting) & (df["graph"] == graph)]
        sns.lineplot(data=sub, x="sample", y="CPO", hue="model", hue_order=models,
                     palette=palette, estimator=None, sort=False, linewidth=0.85,
                     legend=False, ax=ax)
        ax.set_xlim(1 - x_pad, n_samples + x_pad)
        ax.set_ylim(lo - pad, hi + pad)
        ax.set_xlabel("")
        ax.set_ylabel("")
        ax.set_facecolor("white")
        ax.grid(False)
        for sp in ax.spines.values():
            sp.set_color(border)
            sp.set_linewidth(1.3)
        ax.tick_params(axis="both", which="both", direction="out", length=4.5, width=1.0,
                       color=border, labelcolor=tick_txt, labelsize=11, pad=2,
                       bottom=True, left=True, top=False, right=False)
        if r == len(settings) - 1:
            ax.set_xticks(x_ticks)
            ax.set_xticklabels([str(t) for t in x_ticks])
        else:
            ax.set_xticks([])
        if c == 0:
            ax.set_yticks(y_ticks[r])
            ax.set_yticklabels([str(t) for t in y_ticks[r]])
        else:
            ax.set_yticks([])

        # column strips on top
        if r == 0:
            sax = fig.add_axes(box(col_px[c][0], 57.5, col_px[c][1], 82.5))
            sax.set_facecolor(strip_fill)
            sax.set_xticks([]); sax.set_yticks([])
            for sp in sax.spines.values():
                sp.set_color(border); sp.set_linewidth(1.3)
            sax.text(0.5, 0.5, graph, ha="center", va="center", fontsize=10.5,
                     color="#1a1a1a", transform=sax.transAxes)
        # row strips on the right
        if c == len(graphs) - 1:
            rax = fig.add_axes(box(1006.5, row_px[r][0], 1031.0, row_px[r][1]))
            rax.set_facecolor(strip_fill)
            rax.set_xticks([]); rax.set_yticks([])
            for sp in rax.spines.values():
                sp.set_color(border); sp.set_linewidth(1.3)
            rax.text(0.42, 0.5, setting, ha="center", va="center", rotation=-90,
                     fontsize=11, color="#1a1a1a", transform=rax.transAxes)

# axis titles
fig.text(30 / W, 1 - 338 / H, y_label, rotation=90, ha="center", va="center", fontsize=15.5)
fig.text(548 / W, 1 - 631 / H, x_label, ha="center", va="center", fontsize=15.5)

# legend: title followed by three keys in one framed row
fig.patches.append(Rectangle((200 / W, 1 - 50 / H), 697 / W, 36 / H, transform=fig.transFigure,
                             fill=False, edgecolor="#1a1a1a", linewidth=1.1))
fig.text(206 / W, 1 - 32 / H, legend_title, ha="left", va="center", fontsize=16)
for x0, name, col in zip([352, 537, 720], models, model_colors):
    fig.lines.append(Line2D([x0 / W, (x0 + 31) / W], [1 - 32 / H, 1 - 32 / H],
                            transform=fig.transFigure, color=col, linewidth=1.0))
    fig.text((x0 + 42) / W, 1 - 32 / H, name, ha="left", va="center", fontsize=14)

fig.savefig("out.png", dpi=100)
